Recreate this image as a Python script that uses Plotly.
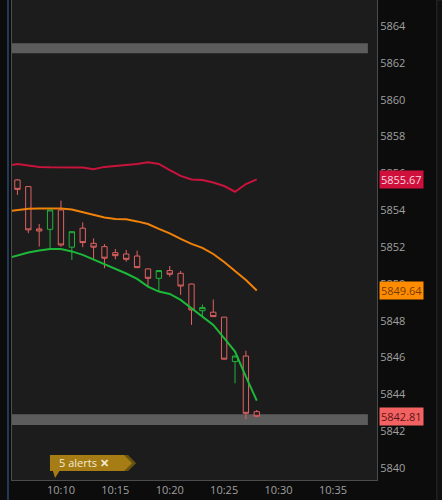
import plotly.graph_objects as go

# one-minute candles, 10:06 - 10:28
day = "2024-10-08 "
candle_times = ["10:06", "10:07", "10:08", "10:09", "10:10", "10:11", "10:12", "10:13",
                "10:14", "10:15", "10:16", "10:17", "10:18", "10:19", "10:20", "10:21",
                "10:22", "10:23", "10:24", "10:25", "10:26", "10:27", "10:28"]
open_ = [5855.64, 5855.28, 5852.98, 5852.96, 5854.01, 5851.99, 5853.02, 5852.20,
         5852.02, 5851.69, 5851.62, 5851.51, 5850.81, 5850.30, 5850.72, 5850.57,
         5849.99, 5848.54, 5848.46, 5848.19, 5845.78, 5846.08, 5843.06]
high = [5855.68, 5855.30, 5853.25, 5854.02, 5854.52, 5852.85, 5853.34, 5852.47,
        5852.16, 5851.89, 5851.84, 5851.80, 5850.83, 5850.74, 5850.97, 5850.70,
        5850.01, 5848.88, 5849.15, 5848.21, 5846.10, 5846.37, 5843.15]
low = [5854.83, 5852.75, 5852.02, 5851.93, 5852.02, 5851.30, 5851.99, 5851.33,
       5850.85, 5851.33, 5851.20, 5850.86, 5849.85, 5849.58, 5850.39, 5849.40,
       5847.77, 5848.20, 5848.20, 5845.89, 5844.60, 5842.65, 5842.78]
close = [5855.13, 5852.93, 5852.87, 5854.01, 5852.11, 5852.83, 5852.24, 5851.99,
         5851.39, 5851.53, 5851.33, 5850.88, 5850.30, 5850.72, 5850.52, 5849.88,
         5848.58, 5848.71, 5848.22, 5845.91, 5846.08, 5842.97, 5842.81]

# band lines, 10:05 - 10:28
band_times = ["10:05"] + candle_times
upper_band = [5856.40, 5856.51, 5856.43, 5856.35, 5856.33, 5856.33, 5856.33, 5856.32,
              5856.22, 5856.35, 5856.40, 5856.44, 5856.51, 5856.60, 5856.51, 5856.18,
              5855.86, 5855.67, 5855.64, 5855.50, 5855.31, 5855.00, 5855.42, 5855.67]
mid_band = [5853.93, 5854.01, 5854.07, 5854.09, 5854.10, 5854.09, 5854.04, 5853.90,
            5853.74, 5853.60, 5853.52, 5853.51, 5853.39, 5853.25, 5852.98, 5852.74,
            5852.44, 5852.17, 5851.95, 5851.62, 5851.19, 5850.70, 5850.21, 5849.64]
lower_band = [5851.38, 5851.54, 5851.70, 5851.81, 5851.89, 5851.89, 5851.76, 5851.57,
              5851.32, 5851.05, 5850.78, 5850.56, 5850.27, 5849.85, 5849.58, 5849.45,
              5849.13, 5848.67, 5848.22, 5847.77, 5847.05, 5846.32, 5844.96, 5843.66]

# grey price levels (bottom, top of each bar)
level_zones = [(5862.52, 5863.06), (5842.34, 5842.92)]

# last value tags: value, background, text colour
tags = [(upper_band[-1], "#d0103c", "#f6d6de"),
        (mid_band[-1], "#ff8c00", "#7a3c00"),
        (close[-1], "#f26262", "#5e1414")]

tick_times = ["10:10", "10:15", "10:20", "10:25", "10:30", "10:35"]

plot_bg = "#1c1c1c"
red = "#e06262"
green = "#22b33a"

fig = go.Figure()

fig.add_trace(go.Scatter(x=[day + t for t in band_times], y=upper_band, mode="lines",
                         line=dict(color="#c8143c", width=2), hoverinfo="skip"))
fig.add_trace(go.Scatter(x=[day + t for t in band_times], y=mid_band, mode="lines",
                         line=dict(color="#f0820a", width=2), hoverinfo="skip"))
fig.add_trace(go.Candlestick(
    x=[day + t for t in candle_times], open=open_, high=high, low=low, close=close,
    increasing=dict(line=dict(color=green, width=1), fillcolor=plot_bg),
    decreasing=dict(line=dict(color=red, width=1), fillcolor=plot_bg),
    whiskerwidth=0,
))
fig.add_trace(go.Scatter(x=[day + t for t in band_times], y=lower_band, mode="lines",
                         line=dict(color="#1db83a", width=2), hoverinfo="skip"))

for y0, y1 in level_zones:
    fig.add_shape(type="rect", xref="paper", yref="y", x0=0, x1=0.975, y0=y0, y1=y1,
                  fillcolor="#5c5c5c", line_width=0, layer="below")

for val, bg, fg in tags:
    fig.add_annotation(x=1, xref="paper", y=val, yref="y", xanchor="left", yanchor="middle",
                       xshift=2, text=f"{val:.2f}", showarrow=False, bgcolor=bg, borderpad=1,
                       font=dict(family="Open Sans", size=11, color=fg))

# panel edges
fig.add_shape(type="line", xref="paper", yref="paper", x0=-0.011, x1=-0.011, y0=-0.1, y1=1,
              line=dict(color="#1f3b58", width=2))
fig.add_shape(type="rect", xref="paper", yref="paper", x0=1.164, x1=1.3, y0=-0.1, y1=1,
              fillcolor="#101010", line=dict(color="#2c2c2c", width=1))

# alert badge
fig.add_shape(type="path", xref="paper", yref="paper",
              path="M 0.112,0.052 L 0.318,0.052 L 0.34,0.035 L 0.318,0.019 L 0.112,0.019 Z",
              fillcolor="#6a520f", line_width=0)
fig.add_shape(type="path", xref="paper", yref="paper",
              path="M 0.104,0.052 L 0.307,0.052 L 0.329,0.035 L 0.307,0.019 L 0.13,0.019 "
                   "L 0.118,0.004 L 0.112,0.019 L 0.104,0.019 Z",
              fillcolor="#a57d14", line_width=0)
fig.add_annotation(x=0.196, xref="paper", y=0.036, yref="paper", xanchor="center",
                   yanchor="middle", text="5 alerts <b>✕</b>", showarrow=False,
                   font=dict(family="Open Sans", size=11, color="#f3ead2"))

fig.update_layout(
    width=442, height=500,
    margin=dict(l=12, r=65, t=0, b=20),
    paper_bgcolor="#0c0c0c", plot_bgcolor=plot_bg,
    showlegend=False,
    font=dict(family="Open Sans", size=11, color="#a0a0a0"),
    xaxis=dict(range=[day + "10:05:30", day + "10:39:03"], type="date",
               tickvals=[day + t for t in tick_times], ticktext=tick_times,
               showgrid=False, zeroline=False, rangeslider=dict(visible=False),
               showline=True, mirror=True, linecolor="#4c4c4c", linewidth=1, ticks=""),
    yaxis=dict(range=[5839.35, 5865.41], side="right", dtick=2, tick0=5840,
               showgrid=False, zeroline=False, tickformat="d",
               showline=True, mirror=True, linecolor="#4c4c4c", linewidth=1, ticks=""),
)

# page body has a default 8px margin; drop it so the figure fills the window
fig.write_html("out.html", config={"displayModeBar": False},
               post_script="document.body.style.margin='0';")
